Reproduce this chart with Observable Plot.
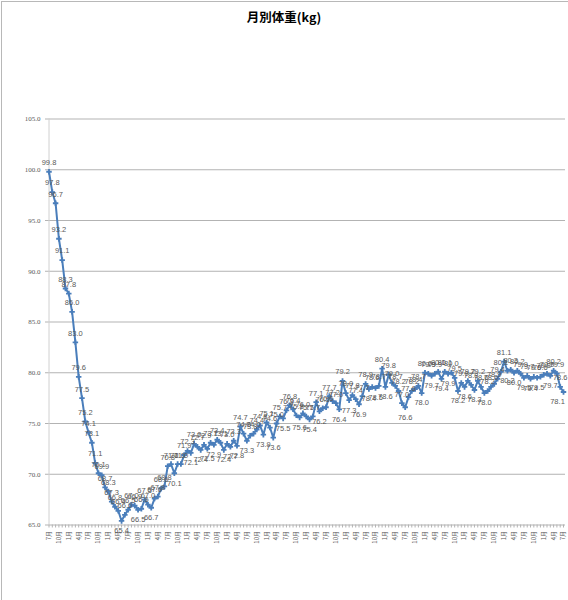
<!DOCTYPE html>
<html><head><meta charset="utf-8">
<script src="https://cdn.jsdelivr.net/npm/d3@7"></script>
<script src="https://cdn.jsdelivr.net/npm/@observablehq/plot@0.6"></script>
<style>
body{margin:0;background:#fff;}
#wrap{position:relative;width:568px;height:600px;overflow:hidden;background:#fff;}
#frame{position:absolute;left:1px;top:1px;width:600px;height:650px;border-left:1.5px solid #b8b8b8;border-top:1.5px solid #b8b8b8;}
#title{position:absolute;top:7px;left:0;width:568px;text-align:center;font-weight:bold;font-size:12.5px;font-family:"Noto Sans CJK JP",sans-serif;color:#000;}
#chart{position:absolute;left:0;top:0;}
</style></head>
<body><div id="wrap"><div id="frame"></div><div id="title">月別体重(kg)</div><div id="chart"></div></div>
<script>
const weights = [
99.8,97.8,96.7,93.2,91.1,88.3,87.8,86.0,83.0,79.6,
77.5,75.2,74.1,73.1,71.1,70.1,69.9,68.7,68.3,67.3,
66.8,66.4,65.4,66.0,66.5,67.0,66.9,66.5,66.6,67.5,
67.0,66.7,67.6,67.8,68.6,68.8,70.8,71.0,70.1,71.0,
71.0,71.9,72.3,72.1,73.0,72.7,72.4,72.9,72.5,73.1,
72.9,73.4,73.1,72.4,73.0,72.7,73.3,72.8,74.7,74.0,
73.3,73.8,74.0,74.4,74.8,73.9,75.1,74.6,73.6,75.0,
75.7,75.5,76.3,76.8,76.4,75.8,75.6,76.0,75.7,75.4,
75.7,77.1,76.2,76.5,76.6,77.7,77.2,77.0,76.4,79.2,
78.0,77.3,77.8,77.4,76.9,77.7,78.9,78.4,78.6,78.5,
78.7,80.4,78.6,79.8,79.0,78.7,78.2,77.0,76.6,77.6,
78.2,78.4,78.7,78.0,80.0,79.9,79.7,79.9,80.1,79.4,
80.1,79.9,80.0,79.5,78.2,79.0,78.6,79.2,78.8,78.3,
79.2,78.6,78.0,78.2,78.6,78.9,79.4,80.1,81.1,80.2,
80.3,80.0,80.2,79.9,79.5,79.7,79.4,79.6,79.5,79.6,
79.8,79.9,79.7,80.2,79.9,78.6,78.1
];
const quarterLabels = ["7月","10月","1月","4月"];
const yTicks = [65,70,75,80,85,90,95,100,105];

const n = weights.length;
const data = weights.map((v,i)=>({
  i, v,
  below: i===n-1 || (i>0 && i<n-1 && v<weights[i-1] && v<weights[i+1])
}));
const blue = "#4a7ebb";
const grey = "#595959";
const labelOpts = {x:"i",y:"v",text:d=>d.v.toFixed(1),fill:grey,fontSize:7.5,fontFamily:"Liberation Sans"};

const chart = Plot.plot({
  width:568, height:600,
  marginLeft:48, marginRight:3, marginTop:118.5, marginBottom:75.5,
  x:{type:"linear", domain:[0,n-1], range:[48.5,563], axis:null},
  y:{domain:[65,105], axis:null},
  marks:[
    Plot.ruleY(yTicks,{stroke:"#b3b3b3", strokeWidth:1}),
    Plot.ruleX([0],{y1:65,y2:105,stroke:"#d0d0d0"}),
    Plot.axisY({ticks:yTicks, tickSize:3, tickPadding:5, tickFormat:d3.format(".1f"),
      stroke:"#b3b3b3", fill:grey, fontSize:7, fontFamily:"Liberation Serif", label:null}),
    Plot.axisX({ticks:d3.range(n), tickSize:3, tickFormat:()=>"", stroke:"#b3b3b3", label:null}),
    Plot.axisX({ticks:d3.range(0,n,3), tickSize:0, tickPadding:6, tickRotate:-90,
      tickFormat:d=>quarterLabels[(d/3)%4], fill:grey, fontSize:6,
      fontFamily:"Noto Sans CJK JP", label:null}),
    Plot.line(data,{x:"i",y:"v",stroke:blue,strokeWidth:2}),
    Plot.dot(data,{x:"i",y:"v",symbol:"cross",r:2.3,fill:blue,stroke:"none"}),
    Plot.text(data.filter(d=>!d.below),{...labelOpts,dy:-9}),
    Plot.text(data.filter(d=>d.below && d.i<n-1),{...labelOpts,dy:10}),
    Plot.text(data.filter(d=>d.i===n-1),{...labelOpts,dy:10,dx:-6})
  ]
});
document.getElementById("chart").appendChild(chart);
</script>
</body></html>
